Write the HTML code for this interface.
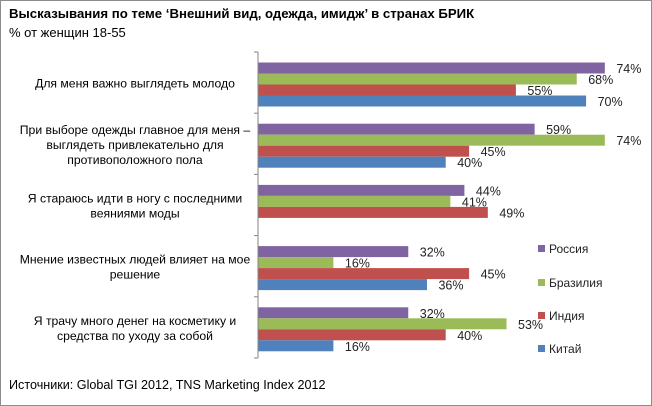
<!DOCTYPE html>
<html><head><meta charset="utf-8"><style>
body{margin:0;background:#fff;}
#wrap{position:relative;width:650px;height:404px;border:1px solid #8c8c8c;font-family:"Liberation Sans","DejaVu Sans",sans-serif;color:#000;overflow:hidden;}
.t{position:absolute;white-space:nowrap;}
svg text{font-family:"Liberation Sans","DejaVu Sans",sans-serif;}
</style></head><body>
<div id="wrap">
<div class="t" style="left:8px;top:5px;font-size:13.2px;font-weight:bold">Высказывания по теме ‘Внешний вид, одежда, имидж’ в странах БРИК</div>
<div class="t" style="left:8px;top:24px;font-size:13px">% от женщин 18-55</div>
<div class="t" style="left:8px;top:377px;font-size:12.6px">Источники: Global TGI 2012, TNS Marketing Index 2012</div>
<svg id="chart" width="650" height="404" style="position:absolute;left:0;top:0"></svg>
</div>
<script>
const categories=[["Для меня важно выглядеть молодо"],["При выборе одежды главное для меня –","выглядеть привлекательно для","противоположного пола"],["Я стараюсь идти в ногу с последними","веяниями моды"],["Мнение известных людей влияет на мое","решение"],["Я трачу много денег на косметику и","средства по уходу за собой"]];
const seriesNames=["Россия","Бразилия","Индия","Китай"];
const colors=["#8064a2","#9bbb59","#c0504d","#4f81bd"];
const russia=[74,59,44,32,32];
const brazil=[68,74,41,16,53];
const india=[55,45,49,45,40];
const china=[70,40,null,36,16];
const series=[russia,brazil,india,china];
const NS="http://www.w3.org/2000/svg";
const svg=document.getElementById('chart');
const x0=257, pxPer=4.68, top0=51, groupH=61.2, barH=11, barOff=10.5;
const xs=v=>x0+v*pxPer;
const gy=i=>top0+i*groupH;
function mk(tag,attrs){const e=document.createElementNS(NS,tag);for(const k in attrs)e.setAttribute(k,attrs[k]);svg.appendChild(e);return e;}
let ax=mk('line',{x1:x0,x2:x0,y1:top0,y2:gy(5),stroke:'#868686'});


for(let i=0;i<=5;i++){let t=mk('line',{x1:x0-4,x2:x0,y1:gy(i),y2:gy(i),stroke:'#868686'});

}
categories.forEach((lines,i)=>{
  const cy=gy(i)+groupH/2+1;
  const txt=mk('text',{x:134,'font-size':12.2,'text-anchor':'middle'});
  
  
  lines.forEach((l,j)=>{const ts=document.createElementNS(NS,'tspan');ts.setAttribute('x',134);ts.setAttribute('y',cy+4+(j-(lines.length-1)/2)*15);ts.textContent=l;txt.appendChild(ts);});
  series.forEach((s,k)=>{
    const v=s[i]; if(v==null) return;
    const y=gy(i)+barOff+k*barH;
    const r=mk('rect',{x:x0+0.5,y:y,width:xs(v)-x0,height:barH,fill:colors[k]});
    
    
    const lb=mk('text',{x:xs(v)+12,y:y+barH/2+5,'font-size':12.5,fill:'#222'});
    lb.textContent=v+'%';
    
    
  });
});
const ly=[248,282,315,348];
seriesNames.forEach((n,k)=>{
  const sq=mk('rect',{x:537,y:ly[k]-4,width:7,height:7,fill:colors[k]});
  
  
  const t=mk('text',{x:548,y:ly[k]+4,'font-size':12,fill:'#222'});
  t.textContent=n;
  
  
});
</script>
</body></html>
